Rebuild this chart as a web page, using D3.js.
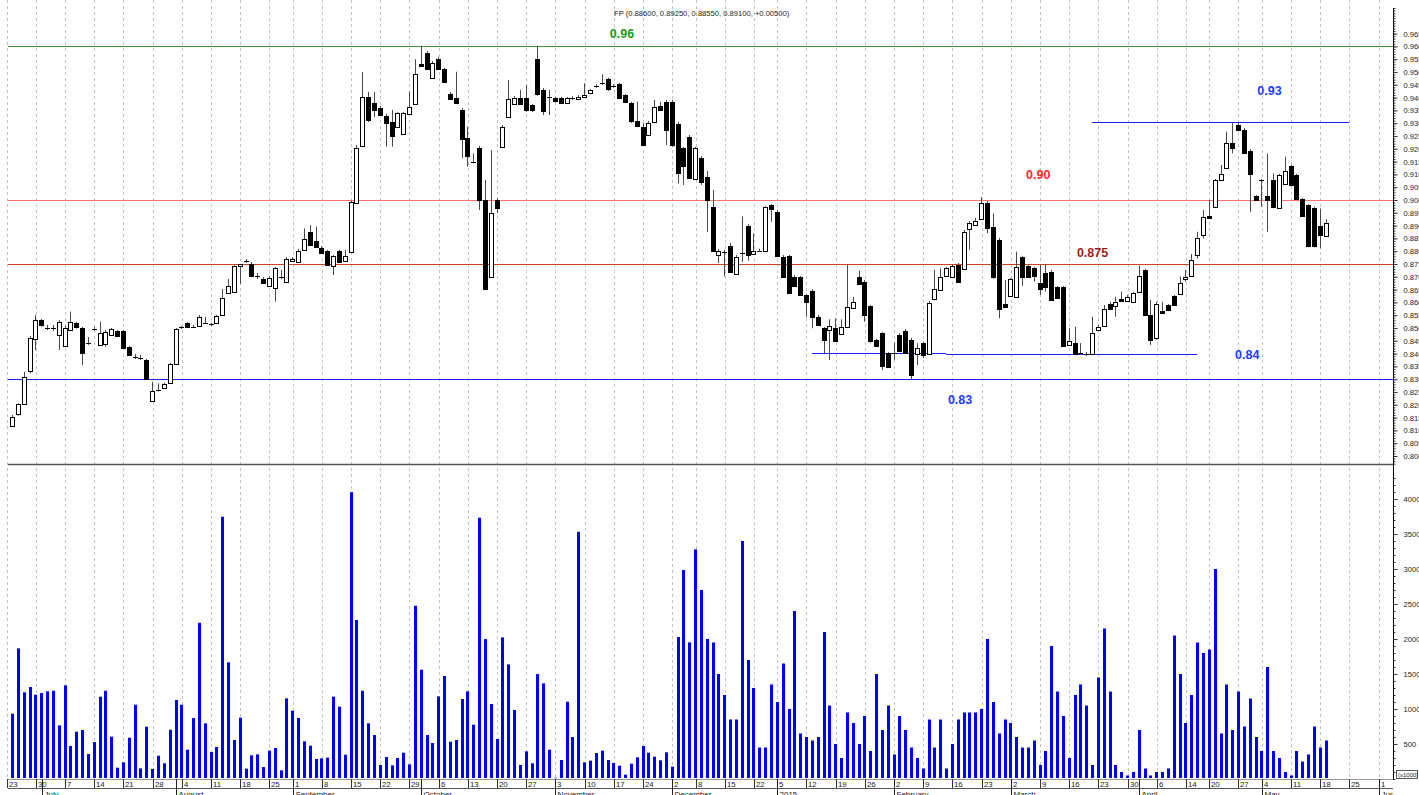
<!DOCTYPE html>
<html><head><meta charset="utf-8">
<script src="https://cdn.jsdelivr.net/npm/d3@7"></script>
<style>
body{margin:0;background:#fff;overflow:hidden}
svg{display:block}
text{font-family:"Liberation Sans",Arial,sans-serif}
</style>
</head><body>
<svg id="c" width="1419" height="795"></svg>
<script>
// ---------------- DATA ----------------
const title = "FP (0.88600, 0.89250, 0.88550, 0.89100, +0.00500)";
const firstDay = "2014-06-23", lastAxisDay = "2015-06-05";
const holidays = ["2014-08-27","2014-12-01","2014-12-24","2014-12-25","2014-12-26","2014-12-31",
                  "2015-01-01","2015-01-02","2015-04-13","2015-05-01"];
const open = [0.8118,0.8163,0.8206,0.8333,0.8456,0.8531,0.8501,0.8501,0.8473,0.8430,
0.8492,0.8518,0.8499,0.8443,0.8496,0.8434,0.8438,0.8473,0.8488,0.8488,
0.8425,0.8386,0.8382,0.8375,0.8215,0.8258,0.8265,0.8284,0.8358,0.8503,
0.8519,0.8505,0.8510,0.8520,0.8515,0.8520,0.8551,0.8636,0.8642,0.8740,
0.8762,0.8749,0.8703,0.8691,0.8664,0.8655,0.8700,0.8681,0.8762,0.8759,
0.8805,0.8874,0.8841,0.8814,0.8801,0.8742,0.8801,0.8763,0.8798,0.8989,
0.9211,0.9404,0.9378,0.9358,0.9328,0.9306,0.9284,0.9258,0.9336,0.9375,
0.9530,0.9575,0.9478,0.9551,0.9511,0.9414,0.9397,0.9352,0.9241,0.9149,
0.9202,0.9000,0.8700,0.9000,0.9208,0.9323,0.9375,0.9400,0.9397,0.9370,
0.9551,0.9430,0.9404,0.9397,0.9397,0.9378,0.9397,0.9397,0.9404,0.9419,
0.9445,0.9456,0.9471,0.9445,0.9452,0.9410,0.9378,0.9310,0.9287,0.9254,
0.9302,0.9367,0.9384,0.9384,0.9296,0.9202,0.9247,0.9081,0.9165,0.9090,
0.8973,0.8785,0.8798,0.8820,0.8711,0.8794,0.8900,0.8789,0.8802,0.8798,
0.8980,0.8952,0.8779,0.8781,0.8700,0.8698,0.8629,0.8646,0.8544,0.8499,
0.8492,0.8499,0.8477,0.8503,0.8577,0.8698,0.8681,0.8586,0.8453,0.8479,
0.8401,0.8401,0.8473,0.8490,0.8453,0.8398,0.8441,0.8401,0.8612,0.8651,
0.8700,0.8700,0.8746,0.8733,0.8886,0.8902,0.8928,0.8989,0.8893,0.8844,
0.8593,0.8625,0.8622,0.8776,0.8742,0.8733,0.8675,0.8714,0.8720,0.8659,
0.8659,0.8434,0.8443,0.8401,0.8398,0.8401,0.8492,0.8505,0.8594,0.8586,
0.8613,0.8607,0.8599,0.8642,0.8727,0.8551,0.8460,0.8568,0.8590,0.8625,
0.8633,0.8694,0.8703,0.8785,0.8863,0.8938,0.8971,0.9078,0.9124,0.9222,
0.9293,0.9273,0.9193,0.9017,0.9078,0.9017,0.9078,0.8971,0.9063,0.9133,
0.9098,0.9003,0.8980,0.8967,0.8898,0.8860];
const high = [0.8160,0.8206,0.8329,0.8469,0.8551,0.8535,0.8512,0.8512,0.8531,0.8508,
0.8564,0.8523,0.8504,0.8465,0.8504,0.8525,0.8492,0.8500,0.8492,0.8492,
0.8430,0.8399,0.8395,0.8379,0.8290,0.8284,0.8286,0.8364,0.8500,0.8508,
0.8523,0.8512,0.8551,0.8544,0.8520,0.8551,0.8652,0.8691,0.8746,0.8750,
0.8770,0.8758,0.8715,0.8699,0.8703,0.8738,0.8727,0.8777,0.8777,0.8809,
0.8889,0.8902,0.8896,0.8820,0.8805,0.8785,0.8805,0.8805,0.8998,0.9215,
0.9500,0.9422,0.9422,0.9367,0.9336,0.9352,0.9344,0.9344,0.9423,0.9550,
0.9602,0.9582,0.9543,0.9559,0.9516,0.9422,0.9501,0.9359,0.9286,0.9182,
0.9211,0.9078,0.9195,0.9008,0.9293,0.9469,0.9406,0.9430,0.9449,0.9375,
0.9602,0.9438,0.9430,0.9402,0.9402,0.9402,0.9405,0.9410,0.9456,0.9434,
0.9452,0.9491,0.9477,0.9452,0.9457,0.9414,0.9383,0.9384,0.9300,0.9309,
0.9391,0.9384,0.9391,0.9391,0.9305,0.9207,0.9254,0.9207,0.9172,0.9113,
0.9039,0.8809,0.8805,0.8833,0.8785,0.8935,0.8906,0.8870,0.8810,0.8977,
0.8984,0.8961,0.8785,0.8785,0.8707,0.8703,0.8633,0.8652,0.8551,0.8504,
0.8534,0.8538,0.8534,0.8746,0.8622,0.8724,0.8688,0.8590,0.8457,0.8484,
0.8406,0.8443,0.8480,0.8496,0.8461,0.8441,0.8446,0.8606,0.8727,0.8733,
0.8738,0.8750,0.8754,0.8883,0.8918,0.8930,0.9011,0.8996,0.8948,0.8852,
0.8688,0.8696,0.8798,0.8781,0.8746,0.8738,0.8746,0.8750,0.8727,0.8664,
0.8664,0.8499,0.8505,0.8441,0.8406,0.8544,0.8512,0.8590,0.8602,0.8622,
0.8642,0.8629,0.8641,0.8744,0.8731,0.8609,0.8602,0.8603,0.8594,0.8629,
0.8701,0.8727,0.8789,0.8876,0.8961,0.9000,0.9082,0.9137,0.9267,0.9300,
0.9302,0.9281,0.9199,0.9019,0.9082,0.9182,0.9104,0.9102,0.9169,0.9137,
0.9102,0.9008,0.8984,0.8973,0.8967,0.8925];
const low = [0.8117,0.8157,0.8203,0.8323,0.8414,0.8505,0.8492,0.8488,0.8414,0.8426,
0.8488,0.8498,0.8355,0.8434,0.8488,0.8430,0.8427,0.8469,0.8465,0.8422,
0.8391,0.8379,0.8375,0.8299,0.8213,0.8252,0.8262,0.8282,0.8355,0.8496,
0.8504,0.8500,0.8508,0.8516,0.8508,0.8519,0.8547,0.8633,0.8641,0.8672,
0.8754,0.8699,0.8691,0.8672,0.8660,0.8603,0.8691,0.8676,0.8758,0.8758,
0.8801,0.8820,0.8815,0.8791,0.8742,0.8707,0.8756,0.8760,0.8797,0.8984,
0.9207,0.9305,0.9324,0.9328,0.9208,0.9208,0.9281,0.9254,0.9332,0.9371,
0.9520,0.9508,0.9477,0.9508,0.9457,0.9391,0.9375,0.9163,0.9130,0.9143,
0.8961,0.8649,0.8699,0.8949,0.9203,0.9320,0.9371,0.9375,0.9344,0.9344,
0.9406,0.9332,0.9332,0.9381,0.9375,0.9375,0.9390,0.9394,0.9402,0.9418,
0.9438,0.9449,0.9426,0.9438,0.9394,0.9381,0.9301,0.9285,0.9211,0.9250,
0.9301,0.9348,0.9215,0.9207,0.9065,0.9059,0.9082,0.9078,0.9059,0.8875,
0.8797,0.8754,0.8701,0.8715,0.8707,0.8759,0.8763,0.8785,0.8797,0.8797,
0.8915,0.8777,0.8696,0.8633,0.8660,0.8625,0.8544,0.8499,0.8508,0.8401,
0.8375,0.8445,0.8473,0.8500,0.8574,0.8668,0.8525,0.8442,0.8426,0.8336,
0.8344,0.8375,0.8406,0.8398,0.8297,0.8355,0.8382,0.8398,0.8609,0.8649,
0.8699,0.8697,0.8678,0.8730,0.8805,0.8898,0.8926,0.8871,0.8692,0.8538,
0.8578,0.8621,0.8619,0.8664,0.8697,0.8681,0.8629,0.8642,0.8606,0.8613,
0.8426,0.8430,0.8398,0.8395,0.8391,0.8395,0.8488,0.8504,0.8570,0.8544,
0.8602,0.8604,0.8598,0.8641,0.8547,0.8434,0.8453,0.8557,0.8566,0.8586,
0.8629,0.8681,0.8699,0.8772,0.8850,0.8930,0.8969,0.9074,0.9121,0.9182,
0.9270,0.9180,0.8954,0.8996,0.8974,0.8876,0.8969,0.8969,0.9059,0.9055,
0.9000,0.8934,0.8815,0.8815,0.8811,0.8855];
const close = [0.8154,0.8202,0.8310,0.8462,0.8531,0.8512,0.8501,0.8500,0.8523,0.8501,
0.8523,0.8501,0.8401,0.8443,0.8496,0.8479,0.8485,0.8495,0.8469,0.8423,
0.8395,0.8386,0.8382,0.8300,0.8255,0.8258,0.8282,0.8360,0.8495,0.8503,
0.8505,0.8505,0.8544,0.8520,0.8515,0.8547,0.8616,0.8664,0.8742,0.8749,
0.8762,0.8703,0.8703,0.8675,0.8697,0.8733,0.8700,0.8770,0.8770,0.8802,
0.8847,0.8824,0.8818,0.8794,0.8746,0.8781,0.8759,0.8783,0.8993,0.9203,
0.9402,0.9313,0.9349,0.9332,0.9302,0.9250,0.9339,0.9339,0.9362,0.9492,
0.9523,0.9511,0.9536,0.9512,0.9462,0.9393,0.9378,0.9237,0.9172,0.9149,
0.9000,0.8651,0.8951,0.8968,0.9287,0.9395,0.9400,0.9378,0.9349,0.9349,
0.9413,0.9349,0.9404,0.9384,0.9378,0.9397,0.9397,0.9404,0.9410,0.9430,
0.9445,0.9456,0.9430,0.9445,0.9397,0.9384,0.9306,0.9289,0.9215,0.9302,
0.9362,0.9352,0.9273,0.9215,0.9104,0.9130,0.9085,0.9202,0.9072,0.9000,
0.8801,0.8802,0.8798,0.8720,0.8776,0.8794,0.8785,0.8802,0.8802,0.8971,
0.8965,0.8781,0.8700,0.8636,0.8664,0.8629,0.8603,0.8544,0.8512,0.8453,
0.8509,0.8450,0.8503,0.8583,0.8600,0.8672,0.8551,0.8451,0.8430,0.8349,
0.8347,0.8403,0.8412,0.8403,0.8317,0.8421,0.8395,0.8599,0.8651,0.8700,
0.8733,0.8742,0.8681,0.8876,0.8911,0.8919,0.8989,0.8893,0.8698,0.8573,
0.8581,0.8690,0.8740,0.8698,0.8700,0.8700,0.8651,0.8661,0.8610,0.8616,
0.8430,0.8451,0.8401,0.8401,0.8398,0.8482,0.8505,0.8573,0.8573,0.8603,
0.8607,0.8622,0.8636,0.8703,0.8551,0.8453,0.8594,0.8560,0.8570,0.8590,
0.8677,0.8700,0.8766,0.8850,0.8932,0.8932,0.9078,0.9102,0.9222,0.9202,
0.9273,0.9183,0.9102,0.9000,0.9078,0.9000,0.8971,0.9098,0.9115,0.9059,
0.9003,0.8938,0.8818,0.8818,0.8863,0.8910];
// volume in thousands
const volume = [933,1866,1238,1314,1204,1228,1252,1261,766,1338,
471,676,700,357,528,1176,1261,604,162,238,
590,1061,152,747,143,333,224,704,1128,1061,
419,871,2232,795,386,457,3746,1666,557,876,
148,338,352,171,405,443,124,1152,976,871,
538,476,286,295,305,1176,1033,347,4098,2271,
1261,795,628,200,314,195,300,376,209,2475,
1561,628,514,1180,1471,533,557,1142,1252,776,
3732,1999,1071,571,2023,1637,985,200,395,224,
1499,1366,419,19,271,1104,600,3532,238,262,
371,405,271,228,190,62,219,309,471,376,
319,267,381,176,2028,2985,1952,3280,2700,2000,
1950,1500,1200,850,850,3400,1700,1300,450,450,
1350,1100,1650,1000,2400,650,600,550,600,2100,
1050,500,300,950,800,500,900,400,1500,700,
1050,350,900,700,450,300,150,850,450,850,
150,500,850,950,950,950,1000,2000,1100,650,
850,800,600,450,450,550,200,400,1900,1250,
900,300,1200,1350,1050,200,1450,2150,1250,200,
100,50,100,700,150,50,100,100,150,2050,
1500,800,1200,1950,1800,1850,3000,650,1350,700,
1250,750,1150,600,400,1600,400,300,100,50,
400,250,350,750,450,550];
const priceTickValues = d3.range(160, 194).map(k => k * 0.005);   // 0.800 … 0.965
const volumeTickValues = [500,1000,1500,2000,2500,3000,3500,4000];
const levelValues = [0.96, 0.90, 0.875, 0.83];
const levelLabels = ["0.96", "0.90", "0.875", "0.83"];
const supportValues = [0.8401, 0.8397];          // 0.84 line (two pieces)
const supportFrom = [137, 160], supportTo = [160, 203];
const resistValue = 0.9303, resistFrom = 185, resistTo = 229;

// ---------------- SETUP ----------------
const W = 1419, H = 795;
const svg = d3.select("#c");
const N = open.length;
const fmtDay = d3.utcFormat("%Y-%m-%d");
const dates = d3.utcDays(new Date(firstDay + "T00:00:00Z"), new Date(lastAxisDay + "T00:00:00Z"))
  .filter(d => d.getUTCDay() % 6 !== 0 && !holidays.includes(fmtDay(d)));

const left = 8, axisX = 1393;
const x = d3.scaleLinear().domain([0, N - 1]).range([12.05, 1325.6]);
const yP = d3.scaleLinear().domain([0.80, 0.90]).range([456, 200]);
const yV = d3.scaleLinear().domain([0, 4000]).range([779, 499]);

// weekly and monthly tick indices
const weekTicks = [], monthTicks = [];
let lastLab = -10;
dates.forEach((d, i) => {
  const prev = dates[i - 1];
  const newWeek = !prev || +d3.utcMonday.floor(d) !== +d3.utcMonday.floor(prev);
  if (newWeek && i - lastLab >= 3) { weekTicks.push(i); lastLab = i; }
  if (prev && d.getUTCMonth() !== prev.getUTCMonth()) monthTicks.push(i);
});
const tickX = i => Math.round(x(i) - 5.4) + 0.5;

// clip
svg.append("defs").append("clipPath").attr("id", "clipL")
  .append("rect").attr("x", 0).attr("y", 0).attr("width", axisX).attr("height", H);

// vertical dashed grid
svg.append("g").selectAll("line").data(weekTicks).join("line")
  .attr("x1", tickX).attr("x2", tickX).attr("y1", 0).attr("y2", 779)
  .attr("stroke", "#c4c4c4").attr("stroke-dasharray", "3,3");

// title
svg.append("text").attr("x", 614).attr("y", 16).attr("font-size", 7.6).attr("fill", "#222").text(title);

// level lines
const levelColors = ["#3c963c", "#ff7070", "#c8461e", "#1c1cff"];
svg.append("g").selectAll("line").data(levelValues).join("line")
  .attr("x1", left).attr("x2", axisX)
  .attr("y1", v => Math.round(yP(v)) + 0.5).attr("y2", v => Math.round(yP(v)) + 0.5)
  .attr("stroke", (v, i) => levelColors[i]).attr("stroke-width", 1.2);

// 0.84 support pieces
svg.append("g").selectAll("line").data(supportValues).join("line")
  .attr("x1", (v, i) => x(supportFrom[i])).attr("x2", (v, i) => x(supportTo[i]))
  .attr("y1", v => Math.round(yP(v)) + 0.5).attr("y2", v => Math.round(yP(v)) + 0.5)
  .attr("stroke", "#1c1cff").attr("stroke-width", 1.2);
// 0.93 resistance
svg.append("line").attr("x1", x(resistFrom)).attr("x2", x(resistTo))
  .attr("y1", Math.round(yP(resistValue)) + 0.5).attr("y2", Math.round(yP(resistValue)) + 0.5)
  .attr("stroke", "#1c1cff").attr("stroke-width", 1.2);

// price panel bottom divider
svg.append("line").attr("x1", left).attr("x2", axisX).attr("y1", 464.5).attr("y2", 464.5)
  .attr("stroke", "#555").attr("stroke-width", 1.6);

// annotation labels
const ann = [
  {t: levelLabels[0], i: 102.4, p: 0.9652, c: "#1e9a1e"},
  {t: levelLabels[1], i: 173.7, p: 0.9098, c: "#ff2a2a"},
  {t: levelLabels[2], i: 182.4, p: 0.8793, c: "#a01c1c"},
  {t: levelLabels[3], i: 160.3, p: 0.8219, c: "#1c3cff"},
  {t: "0.84", i: 209.5, p: 0.8398, c: "#1c3cff"},
  {t: "0.93", i: 213.3, p: 0.9426, c: "#1c3cff"}
];
svg.append("g").selectAll("text").data(ann).join("text")
  .attr("x", d => x(d.i)).attr("y", d => yP(d.p) + 4.5)
  .attr("font-size", 12.5).attr("font-weight", "bold").attr("fill", d => d.c).text(d => d.t);

// candles
const cx = i => Math.round(x(i)) + 0.5;
const idx = d3.range(N);
svg.append("g").selectAll("line").data(idx).join("line")
  .attr("x1", cx).attr("x2", cx)
  .attr("y1", i => yP(high[i])).attr("y2", i => yP(low[i]))
  .attr("stroke", "#4a4a4a").attr("stroke-width", 1);
const bodies = svg.append("g");
idx.forEach(i => {
  const yo = yP(open[i]), yc = yP(close[i]);
  const top = Math.min(yo, yc), h = Math.abs(yo - yc);
  if (h < 1.2) {
    bodies.append("line").attr("x1", cx(i) - 2.5).attr("x2", cx(i) + 2.5)
      .attr("y1", Math.round(top) + 0.5).attr("y2", Math.round(top) + 0.5).attr("stroke", "#000");
  } else {
    bodies.append("rect").attr("x", cx(i) - 2).attr("width", 4)
      .attr("y", Math.round(top) + 0.5).attr("height", Math.max(1, Math.round(h)))
      .attr("fill", close[i] >= open[i] ? "#fff" : "#000").attr("stroke", "#000").attr("stroke-width", 1);
  }
});

// volume bars
svg.append("g").selectAll("rect").data(idx).join("rect")
  .attr("x", i => Math.round(x(i)) - 1).attr("width", 3)
  .attr("y", i => yV(volume[i])).attr("height", i => Math.max(0.5, yV(0) - 1 - yV(volume[i])))
  .attr("fill", "#0000ff");

// right axis line
svg.append("line").attr("x1", axisX + 0.5).attr("x2", axisX + 0.5).attr("y1", 8).attr("y2", 780)
  .attr("stroke", "#000");

// price axis
const pMinor = d3.range(797, 976).map(k => k / 1000);
svg.append("g").attr("transform", `translate(${axisX + 0.5},0)`)
  .call(d3.axisRight(yP).tickValues(pMinor).tickSize(2).tickFormat(""))
  .call(g => g.select(".domain").remove())
  .call(g => g.selectAll("line").attr("stroke", "#333"));
svg.append("g").attr("transform", `translate(${axisX + 0.5},0)`)
  .call(d3.axisRight(yP).tickValues(priceTickValues).tickSize(4).tickPadding(6).tickFormat(d3.format(".3f")))
  .call(g => g.select(".domain").remove())
  .call(g => g.selectAll("line").attr("stroke", "#333"))
  .call(g => g.selectAll("text").attr("font-size", 7.6).attr("fill", "#222").attr("font-family", "Liberation Sans, Arial, sans-serif"));

// volume axis
const vMinor = d3.range(0, 4400, 100);
svg.append("g").attr("transform", `translate(${axisX + 0.5},0)`)
  .call(d3.axisRight(yV).tickValues(vMinor).tickSize(2).tickFormat(""))
  .call(g => g.select(".domain").remove())
  .call(g => g.selectAll("line").attr("stroke", "#333"));
svg.append("g").attr("transform", `translate(${axisX + 0.5},0)`)
  .call(d3.axisRight(yV).tickValues(volumeTickValues).tickSize(4).tickPadding(6).tickFormat(d3.format("d")))
  .call(g => g.select(".domain").remove())
  .call(g => g.selectAll("line").attr("stroke", "#333"))
  .call(g => g.selectAll("text").attr("font-size", 7.6).attr("fill", "#222").attr("font-family", "Liberation Sans, Arial, sans-serif"));
// (x1000) box
svg.append("rect").attr("x", 1396.5).attr("y", 770.5).attr("width", 21).attr("height", 8)
  .attr("fill", "#fff").attr("stroke", "#333").attr("stroke-width", 0.8);
svg.append("text").attr("x", 1398).attr("y", 777).attr("font-size", 6).attr("fill", "#222").text("(x1000)");

// bottom time axis
const bx = svg.append("g").attr("clip-path", "url(#clipL)");
bx.append("line").attr("x1", left).attr("x2", axisX).attr("y1", 779.5).attr("y2", 779.5).attr("stroke", "#999");
bx.append("line").attr("x1", left).attr("x2", axisX).attr("y1", 788.5).attr("y2", 788.5).attr("stroke", "#555");
bx.selectAll("line.wk").data(weekTicks).join("line").attr("class", "wk")
  .attr("x1", tickX).attr("x2", tickX).attr("y1", 779).attr("y2", 788).attr("stroke", "#333");
bx.selectAll("text.wk").data(weekTicks).join("text").attr("class", "wk")
  .attr("x", i => tickX(i) + 1.5).attr("y", 786.5).attr("font-size", 7.8).attr("fill", "#222")
  .text(i => dates[i].getUTCDate());
bx.selectAll("line.mo").data(monthTicks).join("line").attr("class", "mo")
  .attr("x1", tickX).attr("x2", tickX).attr("y1", 779).attr("y2", 795).attr("stroke", "#222");
const monthName = d => d.getUTCMonth() === 0 ? String(d.getUTCFullYear()) : d3.utcFormat("%B")(d);
bx.selectAll("text.mo").data(monthTicks).join("text").attr("class", "mo")
  .attr("x", i => tickX(i) + 2).attr("y", 796.8).attr("font-size", 8).attr("fill", "#222")
  .text(i => monthName(dates[i]));
</script>
</body></html>
